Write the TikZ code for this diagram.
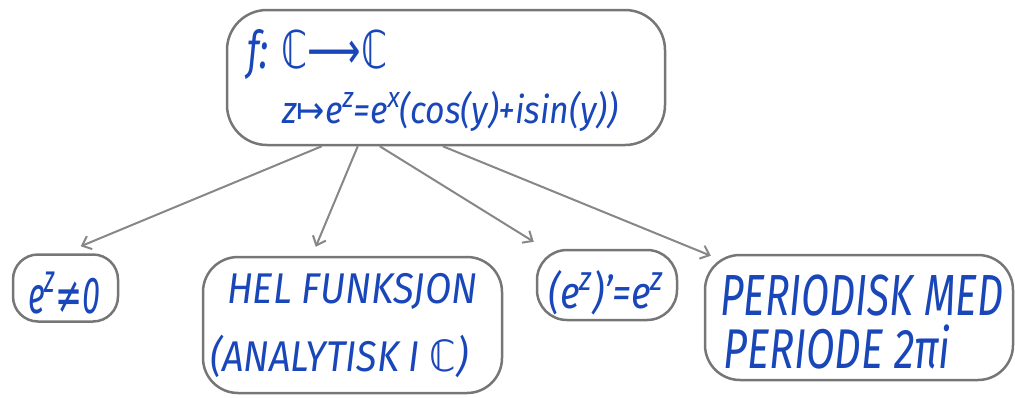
\documentclass[tikz,border=0pt]{standalone}
\usepackage{fontspec}
\usepackage{graphicx}
\setmainfont{Fira Sans}
\newfontfamily\symfont{DejaVu Sans}
\usetikzlibrary{arrows.meta,calc}
\definecolor{ink}{RGB}{25,70,185}
\definecolor{frame}{RGB}{118,118,118}
\definecolor{wire}{RGB}{135,135,135}
\newcommand\fitw[2]{\resizebox{#1}{\height}{#2}}
\newcommand\fs[1]{\fontsize{#1}{#1}\selectfont}
\newcommand\hi[1]{\raisebox{0.75ex}{\scalebox{0.75}{#1}}}
\begin{document}
\begin{tikzpicture}[x=1pt,y=-1pt,
  box/.style={draw=frame, line width=2.5pt, inner sep=0pt},
  txt/.style={text=ink, inner sep=0pt, anchor=base west, font=\itshape},
  link/.style={draw=wire, line width=2pt, -{Straight Barb[length=8pt,width=14pt,line width=2pt]}}]
\useasboundingbox (0,0) rectangle (1015,397);
% boxes
\node[box, rounded corners=40pt, minimum width=438pt, minimum height=135pt] (top) at (446,77.5) {};
\node[box, rounded corners=25pt, minimum width=105pt, minimum height=67pt] (ez) at (65.5,288) {};
\node[box, rounded corners=35pt, minimum width=299pt, minimum height=136pt] (hel) at (352.5,325) {};
\node[box, rounded corners=30pt, minimum width=140pt, minimum height=70pt] (der) at (607,285) {};
\node[box, rounded corners=35pt, minimum width=308pt, minimum height=125pt] (per) at (859,317.5) {};
% texts
\node[txt] (t1) at (247,68) {\fitw{140pt}{\fs{52}f: {\symfont ℂ⟶ℂ}}};
\node[txt] (t2) at (282,123) {\fitw{336pt}{\fs{38}z{\symfont ↦}e\hi{z}=e\hi{x}(cos(y)+isin(y))}};
\node[txt] (t3) at (28,313) {\fitw{72pt}{\fs{52}e\hi{z}{\symfont ≠}0}};
\node[txt] (t4) at (227,303) {\fitw{250pt}{\fs{43}HEL FUNKSJON}};
\node[txt] (t5) at (210,371) {\fitw{258pt}{\fs{43}(ANALYTISK I {\symfont ℂ})}};
\node[txt] (t6) at (548,308) {\fitw{115pt}{\fs{45}(e\hi{z})'=e\hi{z}}};
\node[txt] (t7) at (720,315) {\fitw{283pt}{\fs{58}PERIODISK MED}};
\node[txt] (t8) at (723,368) {\fitw{227pt}{\fs{56}PERIODE 2πi}};
% connectors
\draw[link] ($(top.south west)+(96,0)$) -- ($(ez.north west)+(69,-7)$);
\draw[link] ($(top.south west)+(132,0)$) -- ($(hel.north west)+(114,-9)$);
\draw[link] ($(top.south west)+(154,0)$) -- ($(der.north west)+(-2,-7)$);
\draw[link] ($(top.south west)+(217,0)$) -- ($(per.north west)+(7,2)$);
\end{tikzpicture}
\end{document}
